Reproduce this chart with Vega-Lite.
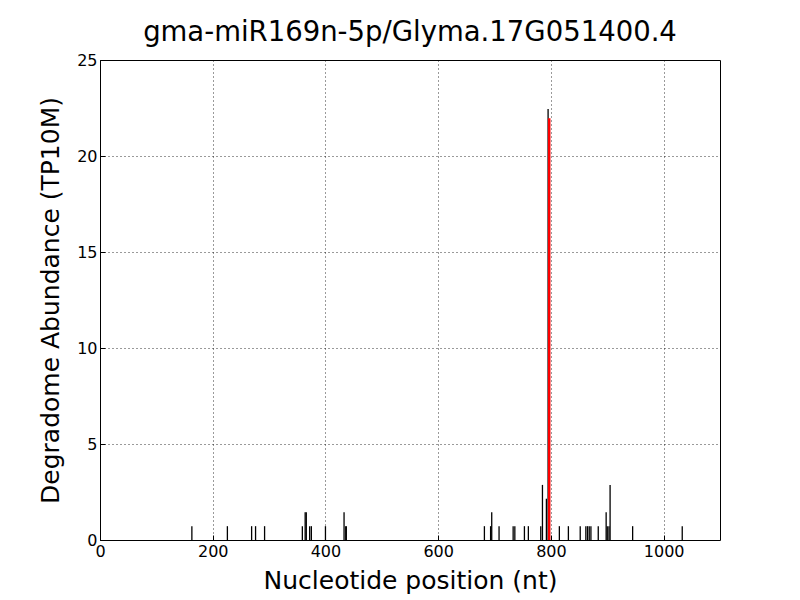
{
  "$schema": "https://vega.github.io/schema/vega-lite/v6.json",
  "autosize": "none",
  "width": 620,
  "height": 480,
  "padding": {"left": 100, "top": 60, "right": 80, "bottom": 60},
  "background": "white",
  "title": {"text": "gma-miR169n-5p/Glyma.17G051400.4", "font": "DejaVu Sans", "fontSize": 27.5, "fontWeight": "normal", "color": "black", "offset": 6},
  "config": {
    "view": {"stroke": "black", "strokeWidth": 1},
    "axis": {"labelFont": "DejaVu Sans", "titleFont": "DejaVu Sans", "labelColor": "black", "titleColor": "black", "domain": false, "tickColor": "black", "grid": true, "gridColor": "black", "gridDash": [1, 3], "gridWidth": 0.8, "tickSize": -5, "labelFontSize": 16, "titleFontSize": 25, "titleFontWeight": "normal", "labelPadding": 8, "labelFlush": false, "format": "d"}
  },
  "data": {"values": [
    {"nt": 163, "v": 0.72, "c": "b"},
    {"nt": 226, "v": 0.72, "c": "b"},
    {"nt": 269, "v": 0.72, "c": "b"},
    {"nt": 276, "v": 0.72, "c": "b"},
    {"nt": 292, "v": 0.72, "c": "b"},
    {"nt": 359, "v": 0.72, "c": "b"},
    {"nt": 364, "v": 1.44, "c": "b"},
    {"nt": 366, "v": 1.44, "c": "b"},
    {"nt": 372, "v": 0.72, "c": "b"},
    {"nt": 375, "v": 0.72, "c": "b"},
    {"nt": 400, "v": 0.72, "c": "b"},
    {"nt": 433, "v": 1.44, "c": "b"},
    {"nt": 436, "v": 0.72, "c": "b"},
    {"nt": 437, "v": 0.72, "c": "b"},
    {"nt": 682, "v": 0.72, "c": "b"},
    {"nt": 693, "v": 0.72, "c": "b"},
    {"nt": 695, "v": 1.44, "c": "b"},
    {"nt": 708, "v": 0.72, "c": "b"},
    {"nt": 733, "v": 0.72, "c": "b"},
    {"nt": 736, "v": 0.72, "c": "b"},
    {"nt": 753, "v": 0.72, "c": "b"},
    {"nt": 760, "v": 0.72, "c": "b"},
    {"nt": 782, "v": 0.72, "c": "b"},
    {"nt": 785, "v": 2.87, "c": "b"},
    {"nt": 792, "v": 2.15, "c": "b"},
    {"nt": 795, "v": 22.45, "c": "b"},
    {"nt": 815, "v": 0.72, "c": "b"},
    {"nt": 831, "v": 0.72, "c": "b"},
    {"nt": 852, "v": 0.72, "c": "b"},
    {"nt": 862, "v": 0.72, "c": "b"},
    {"nt": 865, "v": 0.72, "c": "b"},
    {"nt": 868, "v": 0.72, "c": "b"},
    {"nt": 871, "v": 0.72, "c": "b"},
    {"nt": 884, "v": 0.72, "c": "b"},
    {"nt": 898, "v": 1.44, "c": "b"},
    {"nt": 900, "v": 0.72, "c": "b"},
    {"nt": 903, "v": 0.72, "c": "b"},
    {"nt": 905, "v": 2.87, "c": "b"},
    {"nt": 945, "v": 0.72, "c": "b"},
    {"nt": 1033, "v": 0.72, "c": "b"},
    {"nt": 797, "v": 21.97, "c": "r"}
  ]},
  "mark": {"type": "rule"},
  "encoding": {
    "x": {"field": "nt", "type": "quantitative", "scale": {"domain": [0, 1100], "nice": false, "zero": false}, "axis": {"values": [0, 200, 400, 600, 800, 1000], "title": "Nucleotide position (nt)", "titlePadding": 9}},
    "y": {"field": "v", "type": "quantitative", "scale": {"domain": [0, 25], "nice": false}, "axis": {"values": [0, 5, 10, 15, 20, 25], "title": "Degradome Abundance (TP10M)", "titlePadding": 13}},
    "y2": {"datum": 0},
    "color": {"field": "c", "type": "nominal", "scale": {"domain": ["b", "r"], "range": ["black", "red"]}, "legend": null},
    "strokeWidth": {"field": "c", "type": "nominal", "scale": {"domain": ["b", "r"], "range": [1.3, 2.5]}, "legend": null},
    "order": {"field": "c"}
  }
}
